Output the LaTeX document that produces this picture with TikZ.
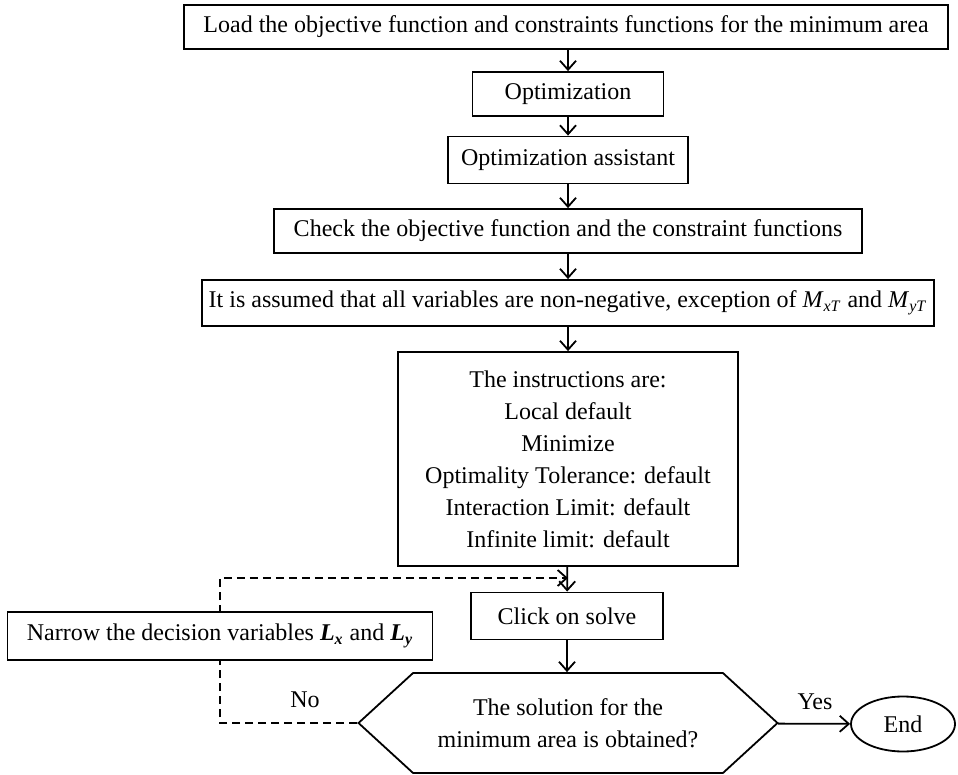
\documentclass[tikz,border=0pt]{standalone}
\usepackage{fontspec}
\setmainfont{Liberation Serif}
\usetikzlibrary{arrows.meta,shapes.symbols,shapes.geometric,backgrounds}

\begin{document}
\begin{tikzpicture}[x=0.5pt,y=-0.5pt,
    font=\fontsize{12}{16}\selectfont,
    box/.style={draw,line width=0.9pt,fill=white,inner sep=0pt,minimum height=22pt},
    hexa/.style={draw,line width=0.9pt,fill=white,shape=signal,signal to=west and east,
      signal pointer angle=85,inner sep=0pt,align=center},
    term/.style={draw,line width=0.9pt,fill=white,ellipse,inner sep=0pt},
    flow/.style={line width=0.9pt,-{Straight Barb[length=4.5pt,width=8pt]}}]
      \useasboundingbox (0,0) rectangle (958,775);
      \draw
        (566,27) node[box,minimum width=382pt] (0){Load the objective function and constraints functions for the minimum area}
        (568,94) node[box,minimum width=95.5pt] (1){Optimization}
        (568,160) node[box,minimum width=120pt,minimum height=23.5pt] (2){Optimization assistant}
        (568,231) node[box,minimum width=294pt] (3){Check the objective function and the constraint functions}
        (568,303) node[box,minimum width=366pt,minimum height=23pt] (4){It is assumed that all variables are non-negative, exception of \textit{M}\textsubscript{\textit{xT}} and \textit{M}\textsubscript{\textit{yT}}}
        (568,459) node[box,minimum width=170pt,minimum height=107pt,align=center] (5){The instructions are:\\Local default\\Minimize\\Optimality Tolerance: default\\Interaction Limit: default\\Infinite limit: default}
        (567,616) node[box,minimum width=96pt,minimum height=23.5pt] (6){Click on solve}
        (568,723) node[hexa,minimum width=209.5pt,minimum height=50pt] (7){The solution for the\\minimum area is obtained?}
        (903,724) node[term,minimum width=52pt,minimum height=27.5pt] (8){End}
        (220,636) node[box,minimum width=212.5pt,minimum height=24pt] (9){Narrow the decision variables \textbf{\textit{L}}\textsubscript{\textbf{\textit{x}}} and \textbf{\textit{L}}\textsubscript{\textbf{\textit{y}}}}
        (815,702) node (yes){Yes}
        (305,700) node (no){No};
      \coordinate (j) at (568,578);
      \begin{scope}[flow]
        \draw (0.south -| 1.north) -- (1);
        \draw (1) -- (2);
        \draw (2) -- (3);
        \draw (3) -- (4);
        \draw (4) -- (5);
        \draw (5) -- (6);
        \draw (6.south) -- (6.south |- 7.north);
        \draw (7) -- (8);
      \end{scope}
      \begin{scope}[on background layer]
        \draw[flow,dash pattern=on 4pt off 2.5pt] (7.west) -| (9.center) |- (j);
      \end{scope}
    \end{tikzpicture}
\end{document}
